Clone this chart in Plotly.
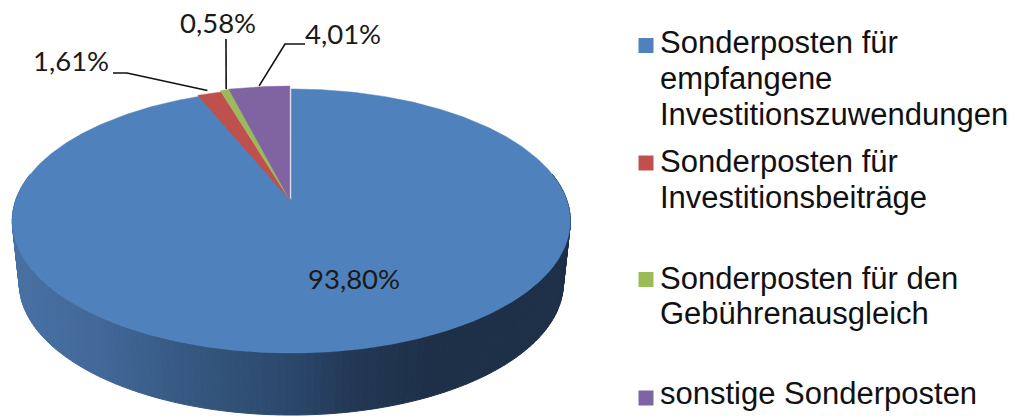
import numpy as np
import plotly.graph_objects as go

# ---- data ----
categories = ["Sonderposten für empfangene Investitionszuwendungen",
              "Sonderposten für Investitionsbeiträge",
              "Sonderposten für den Gebührenausgleich",
              "sonstige Sonderposten"]
values = [93.80, 1.61, 0.58, 4.01]
value_labels = ["93,80%", "1,61%", "0,58%", "4,01%"]
legend_lines = [["Sonderposten für", "empfangene", "Investitionszuwendungen"],
                ["Sonderposten für", "Investitionsbeiträge"],
                ["Sonderposten für den", "Gebührenausgleich"],
                ["sonstige Sonderposten"]]
colors = ["#4F81BD", "#C0504D", "#9BBB59", "#8064A2"]

# ---- look of the tilted pie (pixel space of the 1012x416 canvas) ----
CX, CY, KX, KY, PERSP = 291.3, 200.0, 275.5, 128.7, 0.159
WALL_DROP, WALL_X = 62.0, 0.975
SLICE_R = [1.0, 1.01, 1.025, 1.03]
SLICE_DX = [0.0, -1.5, -1.5, -1.5]
WALL_STOPS_X = [15, 100, 200, 290, 350, 430, 570]
WALL_STOPS_RGB = [(72, 112, 163), (65, 104, 152), (52, 85, 125), (43, 72, 108),
                  (35, 56, 86), (30, 48, 72), (30, 48, 72)]
LABEL_XY = [(354, 278), (71, 60), (218, 22), (343, 33)]
LEADER_ELBOW = [None, [(113, 73), (127, 73)], [(226, 39)], [(305, 44), (285, 44)]]
LEADER_END_SHIFT = [None, (-2, -2), (1.5, 0), (0, 0)]
SWATCH_Y = [45.5, 163, 279.5, 398]
LINE_Y = [[42, 78, 114], [161, 197], [278, 313], [393]]
LEGEND_TEXT = dict(family="Liberation Sans", size=31, color="#111111")
LABEL_TEXT = dict(family="Lato", size=27.5, color="#1a1a1a")


def project(theta_deg, r=1.0, xscale=1.0, drop=0.0, dx=0.0):
    t = np.radians(theta_deg)
    u, v = r * np.sin(t), -r * np.cos(t)
    d = 1 - PERSP * v
    return CX + dx + xscale * KX * u / d, CY + drop + KY * v / d


def wall_rgb(x):
    ch = [np.interp(x, WALL_STOPS_X, [c[i] for c in WALL_STOPS_RGB]) for i in range(3)]
    return "rgb(%d,%d,%d)" % tuple(int(round(c)) for c in ch)


fig = go.Figure()

# side wall of the large slice, shaded strip by strip
wall_angles = np.linspace(78, 282, 161)
for a0, a1 in zip(wall_angles[:-1], wall_angles[1:]):
    seg = np.array([a0, a1])
    xt, yt = project(seg)
    xb, yb = project(seg[::-1], xscale=WALL_X, drop=WALL_DROP)
    col = wall_rgb(float(np.mean(xt)))
    fig.add_trace(go.Scatter(x=[*xt, *xb, xt[0]], y=[*yt, *yb, yt[0]], mode="lines",
                             fill="toself", fillcolor=col,
                             line=dict(color=col, width=1),
                             hoverinfo="skip", showlegend=False))

# top faces
bounds = np.concatenate([[0], np.cumsum(values)]) * 360 / sum(values)
mids = (bounds[:-1] + bounds[1:]) / 2
for i, name in enumerate(categories):
    arc = np.linspace(bounds[i], bounds[i + 1], max(4, int(bounds[i + 1] - bounds[i]) * 2))
    xs, ys = project(arc, r=SLICE_R[i], dx=SLICE_DX[i])
    ax, ay = CX + SLICE_DX[i], CY
    fig.add_trace(go.Scatter(x=[ax, *xs, ax], y=[ay, *ys, ay], mode="lines",
                             fill="toself", fillcolor=colors[i],
                             line=dict(color=colors[i], width=0.5),
                             name=name, hoverinfo="name", showlegend=False))

# leader lines, from the elbow to the rim of each small slice
for i, elbow in enumerate(LEADER_ELBOW):
    if elbow is None:
        continue
    rx, ry = project(mids[i], r=SLICE_R[i], dx=SLICE_DX[i])
    sx, sy = LEADER_END_SHIFT[i]
    pts = list(elbow) + [(float(rx) + sx, float(ry) - 1 + sy)]
    fig.add_trace(go.Scatter(x=[p[0] for p in pts], y=[p[1] for p in pts], mode="lines",
                             line=dict(color="#111111", width=1.6),
                             hoverinfo="skip", showlegend=False))

# hand-placed legend swatches (entries are spaced unevenly and top-aligned)
fig.add_trace(go.Scatter(x=[646] * 4, y=SWATCH_Y, mode="markers",
                         marker=dict(symbol="square", size=15, color=colors, line=dict(width=0)),
                         hoverinfo="skip", showlegend=False))

annotations = []
for txt, (x, y) in zip(value_labels, LABEL_XY):
    annotations.append(dict(x=x, y=y, text=txt, showarrow=False, xref="x", yref="y",
                            xanchor="center", yanchor="middle", font=LABEL_TEXT))
for lines, ys in zip(legend_lines, LINE_Y):
    for line, y in zip(lines, ys):
        annotations.append(dict(x=660, y=y, text=line, showarrow=False, xref="x", yref="y",
                                xanchor="left", yanchor="middle", xshift=-2, font=LEGEND_TEXT))

fig.update_layout(
    width=1012, height=416, margin=dict(l=0, r=0, t=0, b=0),
    paper_bgcolor="white", plot_bgcolor="white", showlegend=False,
    xaxis=dict(range=[0, 1012], visible=False, fixedrange=True),
    yaxis=dict(range=[416, 0], visible=False, fixedrange=True),
    annotations=annotations,
)
fig.write_html("out.html", config=dict(displayModeBar=False),
               post_script="document.body.style.margin='0';document.documentElement.style.overflow='hidden';")
